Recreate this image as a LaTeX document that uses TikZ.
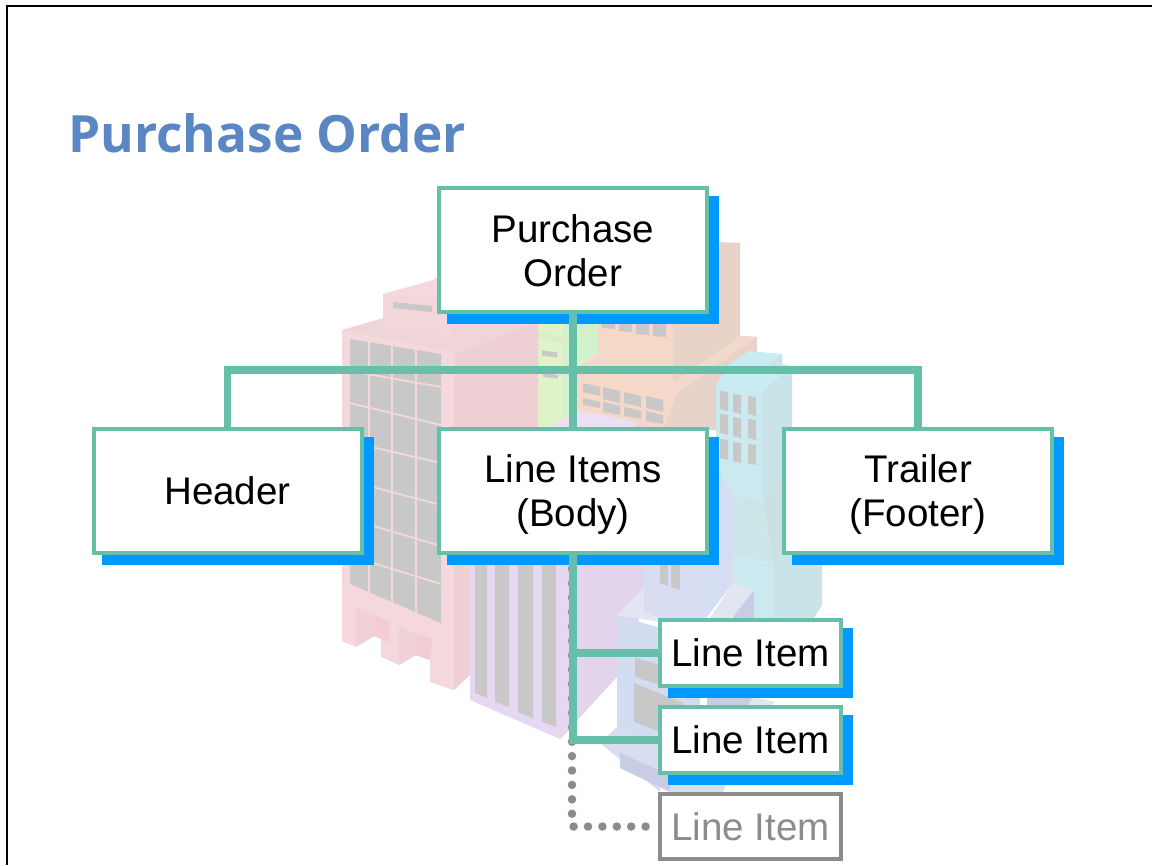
\documentclass[tikz,border=0pt]{standalone}
\usepackage{fontspec}
\setmainfont{Liberation Sans}
\newfontfamily\titlefont{Open Sans}
\usetikzlibrary{shadows}
\definecolor{conn}{HTML}{66BFA8}
\definecolor{shade}{HTML}{0099FF}
\definecolor{ghost}{HTML}{8C8C8C}
\definecolor{titleblue}{HTML}{5B86C4}
\definecolor{glass}{HTML}{C8C8C8}
\definecolor{orA}{HTML}{E8D3C8}
\definecolor{orB}{HTML}{F0DCD0}
\definecolor{orC}{HTML}{F5D8C8}
\definecolor{orD}{HTML}{F3D9CC}
\definecolor{grA}{HTML}{CFF2CC}
\definecolor{grB}{HTML}{E0F2C8}
\definecolor{grC}{HTML}{DCEBC8}
\definecolor{piA}{HTML}{EED0D4}
\definecolor{piB}{HTML}{F0D5D8}
\definecolor{piC}{HTML}{F5D8DC}
\definecolor{piD}{HTML}{F3D6DA}
\definecolor{piE}{HTML}{F0D2D6}
\definecolor{piF}{HTML}{F3CDD3}
\definecolor{puA}{HTML}{E2D4EC}
\definecolor{puB}{HTML}{E6D8F2}
\definecolor{puC}{HTML}{EBE0F2}
\definecolor{cyA}{HTML}{C9E3E8}
\definecolor{cyB}{HTML}{C9ECF2}
\definecolor{cyC}{HTML}{CAEAF0}
\definecolor{cyD}{HTML}{CAE6E9}
\definecolor{cyE}{HTML}{CBE0DF}
\definecolor{blA}{HTML}{D5DEF2}
\definecolor{blB}{HTML}{D8DDF2}
\definecolor{blC}{HTML}{E2E5F2}
\definecolor{blD}{HTML}{C8CCE4}
\definecolor{blE}{HTML}{D3DDF1}
\newcommand{\nudged}[2]{\raisebox{-#1}[\height][\depth]{#2}}
\tikzset{
  x=0.75pt,y=-0.75pt,
  box/.style n args={3}{draw=conn,line width=3pt,fill=white,align=center,inner sep=0pt,
     minimum width=#1*0.75pt,minimum height=#2*0.75pt,
     font=\fontsize{28.9}{33}\selectfont,
     copy shadow={shadow xshift=#3*0.75pt,shadow yshift=-#3*0.75pt,fill=shade,draw=shade,line width=3pt}},
  ghostbox/.style={draw=ghost,line width=3pt,fill=white,inner sep=0pt,text=ghost,
     minimum width=181*0.75pt,minimum height=65*0.75pt,font=\fontsize{28.9}{33}\selectfont},
  link/.style={draw=conn,line width=5.5pt},
  dotlink/.style={draw=ghost,line width=6.4pt,line cap=round,dash pattern=on 0pt off 10.8pt},
  frameline/.style={draw=black,line width=1.8pt},
  wpane/.style={fill=glass},
}
\begin{document}
\begin{tikzpicture}
\useasboundingbox (0,0) rectangle (1152,865);
\fill[white] (0,0) rectangle (1152,865);
\draw[frameline] (1152,6) -- (7,6) -- (7,865);

% ---------- faded buildings (background) ----------
% orange building
\fill[orA] (673,323) -- (719,242) -- (740,243) -- (740,336) -- (757,337) -- (757,365) -- (716,395) -- (716,430) -- (663,430) -- (677,393) -- (673,383) -- cycle;
\fill[orB] (700,242) -- (719,242) -- (719,260) -- cycle;
\fill[orC] (598,318) -- (673,318) -- (673,383) -- (598,365) -- cycle;
\fill[orD] (577,366) -- (598,353) -- (673,383) -- (740,336) -- (757,337) -- (677,393) -- cycle;
\fill[orC] (577,366) -- (677,393) -- (663,430) -- (577,430) -- cycle;
\foreach \x/\a/\b in {583/383/392,603/387/399,624/392/403,646/396/408}{
  \fill[glass] (\x,\a) -- (\x+17,\a+4) -- (\x+17,\b+4) -- (\x,\b) -- cycle;
  \fill[glass] (\x,\a+15) -- (\x+17,\a+19) -- (\x+17,\b+16) -- (\x,\b+13) -- cycle;
}
\foreach \x/\b in {602/328,619/331,636/334,653/336}{
  \fill[glass] (\x,320) -- (\x+13,320) -- (\x+13,\b+1) -- (\x,\b) -- cycle;
}
% green building
\fill[grA] (563,320) -- (598,320) -- (598,353) -- (577,365) -- (577,430) -- (563,430) -- cycle;
\fill[grB] (537,320) -- (563,320) -- (563,430) -- (537,430) -- cycle;
\fill[grC] (537,337) -- (563,344) -- (598,332) -- (598,327) -- (563,338) -- (537,332) -- cycle;
\fill[glass] (542,350.5) -- (557,352.5) -- (557,357.5) -- (542,355.5) -- cycle;
\fill[glass] (543,373) -- (558,375) -- (558,378.5) -- (543,377) -- cycle;
% pink building
\fill[piA] (454,347) -- (538,322) -- (538,560) -- (470,675) -- (454,690) -- cycle;
\fill[piB] (342,330) -- (383,318) -- (437,277) -- (437,320) -- (538,322) -- (454,354) -- cycle;
\fill[piC] (342,330) -- (454,352) -- (454,690) -- (430,682) -- (430,660) -- (416,655) -- (399,665) -- (381,657) -- (381,639) -- (374,636) -- (356,647) -- (342,641) -- cycle;
\fill[piC] (383,294) -- (437,279) -- (437,301) -- cycle;
\fill[piD] (383,294) -- (452,302) -- (452,337) -- (383,327) -- cycle;
\fill[glass] (393,302) -- (432,306) -- (432,312) -- (393,308) -- cycle;
\fill[wpane] (350,339) -- (441,354) -- (441,623) -- (350,584) -- cycle;
\foreach \a/\b in {371/387,403/425,442/463,481/505,519/546,556/584}{
  \draw[piC,line width=1.3pt] (350,\a) -- (441,\b);
}
\foreach \x/\a/\b in {369/340/594,392/344/604,416/348/614}{
  \draw[piC,line width=1.5pt] (\x,\a) -- (\x,\b);
}
\fill[piE] (356,607) -- (374,615) -- (374,636) -- (356,647) -- cycle;
\fill[piF] (374,615) -- (389,621) -- (389,642) -- (374,636) -- cycle;
\fill[piE] (399,626) -- (417,634) -- (416,655) -- (399,665) -- cycle;
\fill[piF] (417,634) -- (432,639) -- (430,660) -- (416,655) -- cycle;
% purple building
\fill[puA] (572,425) -- (650,425) -- (650,590) -- (617,677) -- (560,739) -- (572,600) -- cycle;
\fill[puB] (470,430) -- (572,430) -- (572,727) -- (560,739) -- (470,700) -- cycle;
\fill[puC] (553,425) -- (578,410) -- (637,422) -- (630,430) -- (553,430) -- cycle;
\fill[glass] (475,555) -- (487,555) -- (487,698) -- (475,693) -- cycle;
\fill[glass] (495,555) -- (509,555) -- (509,707) -- (495,702) -- cycle;
\fill[glass] (518,555) -- (533,555) -- (533,718) -- (518,712) -- cycle;
\fill[glass] (542,555) -- (556,555) -- (556,727) -- (542,722) -- cycle;
% blue tower behind the cyan building
\fill[blA] (705,465) -- (733,465) -- (733,583) -- (705,583) -- cycle;
% cyan building
\fill[cyA] (763,390) -- (792,366) -- (792,482) -- (763,501) -- cycle;
\fill[cyB] (716,384) -- (730,364) -- (749,351) -- (782,354) -- (782,364) -- (792,366) -- (763,390) -- cycle;
\fill[cyA] (760,374) -- (782,354) -- (782,364) -- cycle;
\fill[cyC] (716,384) -- (763,390) -- (763,501) -- (733,494) -- (716,467) -- cycle;
\foreach \x/\d in {720/0,733/3,748/5}{
  \foreach \a/\b in {391/409,414/433,439/458}{
    \fill[glass] (\x,\a+\d) -- (\x+8,\a+\d+1) -- (\x+8,\b+\d+2) -- (\x,\b+\d) -- cycle;
  }
}
\fill[cyD] (733,494) -- (763,501) -- (773,564) -- (733,555) -- cycle;
\fill[cyE] (763,501) -- (782,482) -- (782,553) -- (773,564) -- cycle;
\fill[cyC] (733,555) -- (773,564) -- (773,625) -- (733,625) -- cycle;
\fill[cyA] (773,564) -- (782,553) -- (822,563) -- (822,605) -- (800,640) -- (773,640) -- cycle;
% blue building
\fill[blA] (697,555) -- (733,555) -- (733,583) -- (697,630) -- cycle;
\fill[blB] (644,555) -- (697,555) -- (697,630) -- (644,613) -- cycle;
\fill[glass] (660,555) -- (668,555) -- (668,586) -- (660,583) -- cycle;
\fill[glass] (671,555) -- (680,555) -- (680,590) -- (671,587) -- cycle;
\fill[blC] (617,615) -- (644,588) -- (644,613) -- (680,625) -- cycle;
\fill[blC] (710,618) -- (733,583) -- (754,590) -- (731,618) -- cycle;
\fill[blD] (731,620) -- (754,590) -- (754,625) -- cycle;
\fill[blB] (600,743) -- (617,727) -- (660,720) -- (660,792) -- cycle;
\fill[blE] (617,615) -- (700,640) -- (700,760) -- (617,727) -- cycle;
\fill[glass] (635,658) -- (660,665) -- (660,685) -- (635,677) -- cycle;
\fill[glass] (634,683) -- (683,703) -- (683,740) -- (634,722) -- cycle;
\fill[blD] (620,753) -- (670,775) -- (670,792) -- (620,768) -- cycle;
\fill[blB] (670,775) -- (730,775) -- (723,792) -- (670,792) -- cycle;
\fill[blD] (707,698) -- (753,698) -- (745,710) -- (707,710) -- cycle;
\fill[blC] (753,697) -- (775,702) -- (770,710) -- (745,710) -- cycle;

% ---------- title ----------
\node[anchor=base west,inner sep=0pt,text=titleblue] (title) at (68,152)
  {\titlefont\fontsize{38.5}{46}\selectfont\bfseries Purchase Order};

% ---------- boxes ----------
\node[box={268}{124}{10}] (po) at (573,250) {\nudged{0.75pt}{Purchase}\\\nudged{0.75pt}{Order}};
\node[box={268}{124}{10}] (hdr) at (227.5,490.5) {Header};
\node[box={268}{124}{10}] (li) at (573,490.5) {\nudged{2.7pt}{Line Items}\\\nudged{2.7pt}{(Body)}};
\node[box={268}{124}{10}] (tr) at (918,490.5) {\nudged{2.7pt}{Trailer}\\\nudged{2.7pt}{(Footer)}};
\node[box={181}{66}{10}] (a) at (750.5,653) {Line Item};
\node[box={181}{66}{10}] (b) at (750.5,740) {Line Item};
\node[ghostbox] (c) at (750.5,826.5) {Line Item};
\coordinate (bus) at (573,370);

% ---------- connectors ----------
\draw[dotlink] ([xshift=-0.75pt,yshift=-10.8pt]li.south) |- (c.west);
\draw[link] (po.south) -- (li.north);
\draw[link] (hdr.north) |- (bus) -| (tr.north);
\draw[link] (li.south) |- (a.west);
\draw[link] (li.south) |- (b.west);
\end{tikzpicture}
\end{document}
